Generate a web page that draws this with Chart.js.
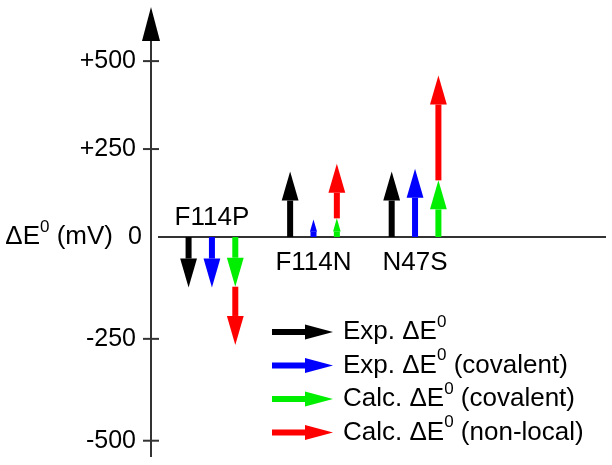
<!DOCTYPE html>
<html>
<head>
<meta charset="utf-8">
<script src="https://cdn.jsdelivr.net/npm/chart.js@4.4.1/dist/chart.umd.min.js"></script>
<style>
  html, body { margin: 0; padding: 0; background: #fff; }
  #wrap { width: 612px; height: 465px; }
</style>
</head>
<body>
<div id="wrap"><canvas id="deltaChart"></canvas></div>
<script>
// Mutants and the shifts (mV)
const groups = ["F114P", "F114N", "N47S"];
const expTotal = [-124, 186, 186];
const expCovalent = [-124, 50, 194];
const calcCovalent = [-122, 53, 161];
const calcNonLocal = [-265, 208, 459];   // red arrow tip, starts where green ends

const posTicks = [0, 250, 500];
const negTicks = [-250, -500];
const seriesLabels = ["Exp. ΔE0", "Exp. ΔE0 (covalent)", "Calc. ΔE0 (covalent)", "Calc. ΔE0 (non-local)"];

const FONT = "'Liberation Sans', Arial, sans-serif";
const colors = ["#000000", "#0000ff", "#00ee00", "#ff0000"];
const offsets = [-0.23, 0, 0.23, 0.23];
const seriesValues = [expTotal, expCovalent, calcCovalent, calcNonLocal];

const datasets = seriesValues.map((vals, s) => ({
    label: seriesLabels[s],
    data: groups.map((g, i) => ({ x: i + 1 + offsets[s], y: vals[i] })),
    arrowColor: colors[s],
    startsAt: s === 3 ? calcCovalent : null,
    pointRadius: 0,
    showLine: false,
    yAxisID: "yPos"
}));

function yPix(chart, v) {
    return v >= 0 ? chart.scales.yPos.getPixelForValue(v) : chart.scales.yNeg.getPixelForValue(v);
}

function vArrow(ctx, x, y0, y1, color) {
    const len = Math.abs(y1 - y0);
    const dir = y1 < y0 ? -1 : 1;
    const head = Math.min(29, len * 0.7);
    const hw = Math.max(3.5, head * 0.29);
    const shaftEnd = y1 - dir * head;
    ctx.fillStyle = color;
    ctx.fillRect(x - 3, Math.min(y0, shaftEnd), 6, Math.abs(shaftEnd - y0));
    ctx.beginPath();
    ctx.moveTo(x - hw, shaftEnd);
    ctx.lineTo(x + hw, shaftEnd);
    ctx.lineTo(x, y1);
    ctx.closePath();
    ctx.fill();
}

function hArrow(ctx, x0, x1, y, color) {
    const head = 28;
    ctx.fillStyle = color;
    ctx.fillRect(x0, y - 3, x1 - head - x0, 6);
    ctx.beginPath();
    ctx.moveTo(x1 - head, y - 7.5);
    ctx.lineTo(x1 - head, y + 7.5);
    ctx.lineTo(x1, y);
    ctx.closePath();
    ctx.fill();
}

// text with the "0" of ΔE0 raised as a superscript
function supText(ctx, str, x, y, size, measureOnly) {
    const parts = str.split("ΔE0");
    const segs = [];
    parts.forEach((p, k) => {
        if (k > 0) segs.push({ t: "0", sup: true });
        segs.push({ t: (k < parts.length - 1) ? p + "ΔE" : p, sup: false });
    });
    let w = 0;
    segs.forEach(sg => {
        ctx.font = (sg.sup ? Math.round(size * 0.65) : size) + "px " + FONT;
        const sw = ctx.measureText(sg.t).width;
        if (!measureOnly) ctx.fillText(sg.t, x + w, sg.sup ? y - size * 0.38 : y);
        w += sw;
    });
    return w;
}

const arrowPlugin = {
    id: "arrowPlugin",
    afterDraw(chart) {
        const ctx = chart.ctx;
        const area = chart.chartArea;
        const xs = chart.scales.x;
        const y0 = yPix(chart, 0);
        ctx.save();

        // vertical axis with arrowhead
        ctx.strokeStyle = "#333";
        ctx.lineWidth = 2;
        ctx.beginPath();
        ctx.moveTo(area.left, area.bottom);
        ctx.lineTo(area.left, area.top);
        ctx.stroke();
        ctx.fillStyle = "#000";
        ctx.beginPath();
        ctx.moveTo(area.left - 9, area.top + 1);
        ctx.lineTo(area.left + 9, area.top + 1);
        ctx.lineTo(area.left, area.top - 33);
        ctx.closePath();
        ctx.fill();

        // crossing tick marks
        posTicks.concat(negTicks).filter(v => v !== 0).forEach(v => {
            const y = yPix(chart, v);
            ctx.beginPath();
            ctx.moveTo(area.left - 8, y);
            ctx.lineTo(area.left + 8, y);
            ctx.stroke();
        });

        // zero line
        ctx.beginPath();
        ctx.moveTo(area.left + 7, y0);
        ctx.lineTo(area.right - 2, y0);
        ctx.stroke();

        // arrows
        chart.data.datasets.forEach(ds => {
            ds.data.forEach((pt, i) => {
                const from = ds.startsAt ? ds.startsAt[i] : 0;
                vArrow(ctx, xs.getPixelForValue(pt.x), yPix(chart, from), yPix(chart, pt.y), ds.arrowColor);
            });
        });

        // group labels
        ctx.fillStyle = "#000";
        ctx.textAlign = "center";
        ctx.textBaseline = "alphabetic";
        ctx.font = "26px " + FONT;
        groups.forEach((g, i) => {
            const x = xs.getPixelForValue(i + 1);
            const y = expTotal[i] < 0 ? y0 - 12 : y0 + 33;
            ctx.fillText(g, x, y);
        });

        // axis title and the zero label beside the baseline
        ctx.textAlign = "right";
        ctx.textBaseline = "middle";
        ctx.font = "25px " + FONT;
        ctx.fillText("0", area.left - 9, y0);
        ctx.textAlign = "left";
        const title = "ΔE0 (mV)";
        const tw = supText(ctx, title, 0, 0, 26, true);
        supText(ctx, title, 113 - tw, y0, 26, false);

        // legend
        chart.data.datasets.forEach((ds, s) => {
            const y = 332 + s * 33.5;
            hArrow(ctx, 272, 333, y, ds.arrowColor);
            ctx.fillStyle = "#000";
            supText(ctx, ds.label, 343, y, 26, false);
        });
        ctx.restore();
    }
};

const fitAxis = scale => {
    scale.width = 151;
    scale.paddingTop = 0;
    scale.paddingBottom = 0;
};

const tickLabel = v => (v > 0 ? "+" + v : v === 0 ? "" : String(v));

new Chart(document.getElementById("deltaChart"), {
    type: "scatter",
    data: { datasets: datasets },
    options: {
        responsive: true,
        maintainAspectRatio: false,
        animation: false,
        layout: { padding: { top: 40, bottom: 8, right: 4, left: 0 } },
        plugins: { legend: { display: false }, tooltip: { enabled: false } },
        scales: {
            x: { type: "linear", display: false, min: 0.4, max: 4.9 },
            yNeg: {
                type: "linear", position: "left", stack: "y", stackWeight: 220,
                min: -540, max: 0,
                afterBuildTicks: s => { s.ticks = negTicks.map(v => ({ value: v })); },
                afterFit: fitAxis,
                grid: { display: false, drawTicks: false },
                border: { display: false },
                ticks: { padding: 15, color: "#000", font: { family: FONT, size: 25 }, callback: tickLabel }
            },
            yPos: {
                type: "linear", position: "left", stack: "y", stackWeight: 197,
                min: 0, max: 560,
                afterBuildTicks: s => { s.ticks = posTicks.map(v => ({ value: v })); },
                afterFit: fitAxis,
                grid: { display: false, drawTicks: false },
                border: { display: false },
                ticks: { padding: 15, color: "#000", font: { family: FONT, size: 25 }, callback: tickLabel }
            }
        }
    },
    plugins: [arrowPlugin]
});
</script>
</body>
</html>
